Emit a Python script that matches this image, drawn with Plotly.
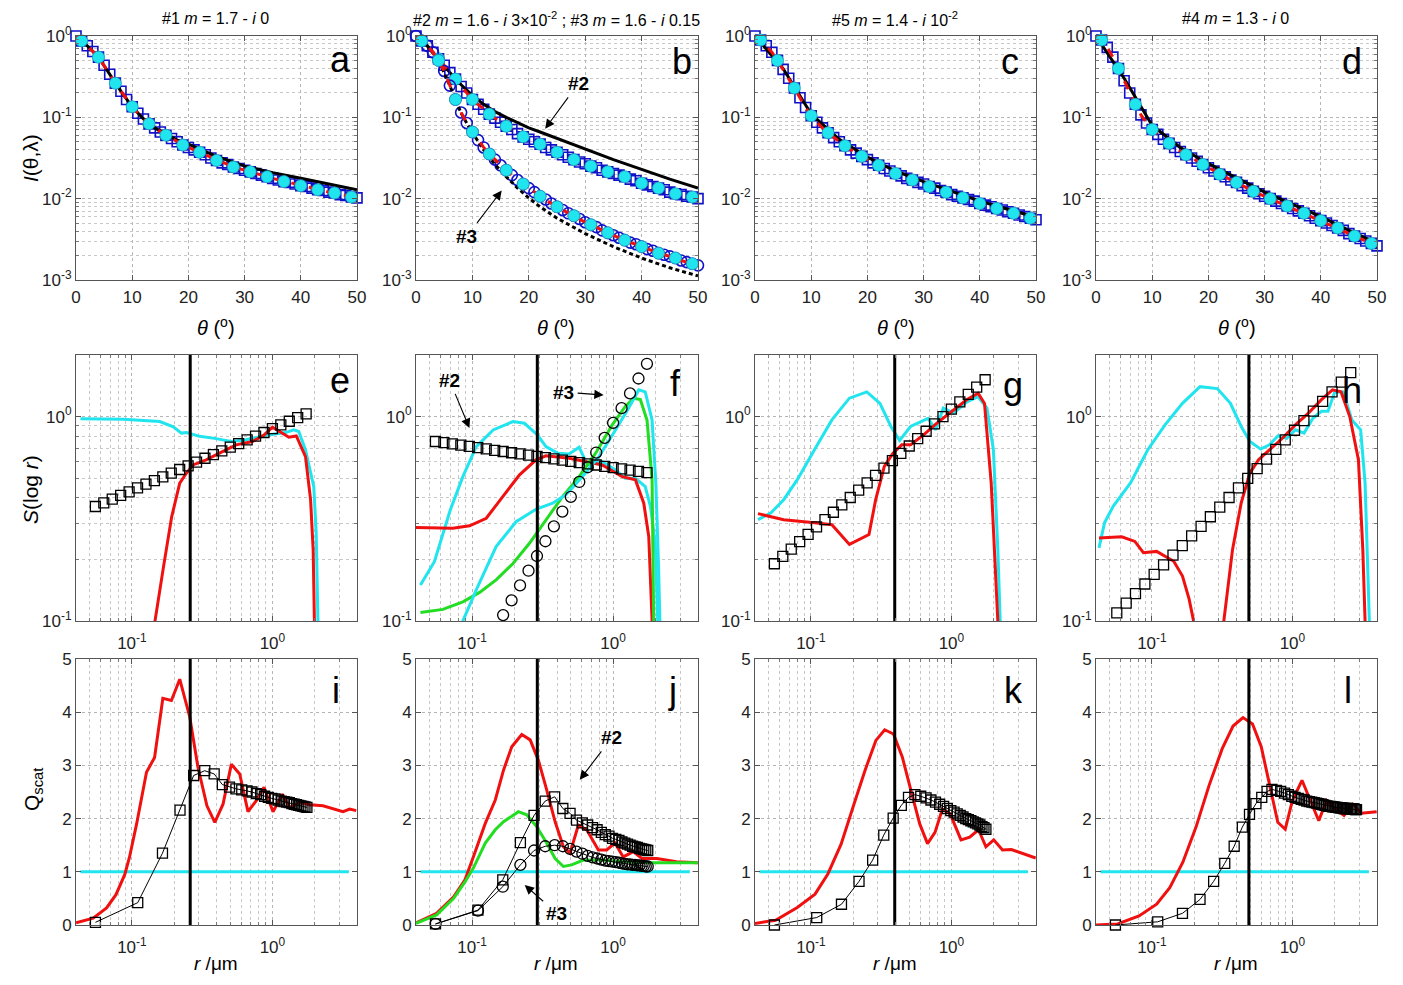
import math
import plotly.graph_objects as go

# page is 1403x985; the html body adds an 8 px margin, so the figure is drawn 8 px smaller
W, H = 1387, 969
OFF = 8
FONT = "Liberation Sans, Arial, sans-serif"

# ---------------- Row 1 : I(theta) (values stored as log10) ----------------
theta = list(range(51))
a_fit_log10 = [0.0, -0.06, -0.12, -0.19, -0.26, -0.36, -0.47, -0.58, -0.68, -0.78,
               -0.87, -0.95, -1.02, -1.08, -1.13, -1.18, -1.22, -1.26, -1.30, -1.34,
               -1.37, -1.40, -1.43, -1.46, -1.50, -1.53, -1.56, -1.58, -1.61, -1.63,
               -1.65, -1.67, -1.69, -1.71, -1.73, -1.75, -1.77, -1.79, -1.80, -1.82,
               -1.84, -1.85, -1.87, -1.89, -1.90, -1.92, -1.93, -1.95, -1.96, -1.98, -1.99]
a_black_theta = [0, 2, 4, 6, 8, 10, 12, 14, 16, 18, 20, 25, 30, 35, 40, 45, 50]
a_black_log10 = [0, -0.12, -0.26, -0.47, -0.68, -0.87, -1.02, -1.13, -1.21, -1.28, -1.33,
                 -1.48, -1.60, -1.68, -1.75, -1.82, -1.89]

b2_fit_log10 = [0.0, -0.06, -0.12, -0.20, -0.28, -0.36, -0.45, -0.53, -0.62, -0.70,
                -0.78, -0.84, -0.90, -0.96, -1.01, -1.06, -1.11, -1.15, -1.20, -1.24,
                -1.27, -1.30, -1.33, -1.37, -1.40, -1.43, -1.46, -1.49, -1.52, -1.55,
                -1.57, -1.60, -1.62, -1.65, -1.67, -1.69, -1.71, -1.73, -1.76, -1.78,
                -1.81, -1.83, -1.85, -1.87, -1.89, -1.92, -1.94, -1.95, -1.97, -1.98, -2.00]
b3_fit_log10 = [0.0, -0.06, -0.12, -0.20, -0.30, -0.43, -0.61, -0.78, -0.94, -1.07,
                -1.18, -1.28, -1.37, -1.45, -1.52, -1.59, -1.65, -1.71, -1.77, -1.82,
                -1.87, -1.92, -1.97, -2.01, -2.06, -2.10, -2.14, -2.18, -2.21, -2.25,
                -2.29, -2.32, -2.35, -2.39, -2.42, -2.45, -2.48, -2.51, -2.54, -2.56,
                -2.59, -2.62, -2.64, -2.67, -2.69, -2.71, -2.73, -2.76, -2.78, -2.80, -2.82]
b_black_theta = [0, 2, 4, 6, 8, 10, 12, 14, 16, 18, 20, 22, 25, 30, 35, 40, 45, 50]
b_black2_log10 = [0, -0.12, -0.28, -0.45, -0.60, -0.73, -0.84, -0.93, -1.00, -1.07, -1.13,
                  -1.18, -1.26, -1.39, -1.52, -1.64, -1.76, -1.87]
b_black3_log10 = [0, -0.12, -0.30, -0.61, -0.95, -1.19, -1.40, -1.58, -1.73, -1.87, -1.99,
                  -2.10, -2.24, -2.43, -2.59, -2.73, -2.85, -2.95]

c_fit_log10 = [0.0, -0.05, -0.12, -0.20, -0.30, -0.41, -0.52, -0.64, -0.76, -0.88,
               -0.98, -1.06, -1.13, -1.19, -1.25, -1.30, -1.35, -1.40, -1.44, -1.48,
               -1.52, -1.56, -1.59, -1.63, -1.66, -1.69, -1.72, -1.75, -1.77, -1.80,
               -1.82, -1.85, -1.87, -1.90, -1.92, -1.95, -1.97, -1.99, -2.01, -2.03,
               -2.06, -2.08, -2.10, -2.12, -2.14, -2.16, -2.18, -2.20, -2.22, -2.24, -2.26]
cd_black_theta = [0, 5, 10, 15, 20, 25, 30, 35, 40, 45, 50]
c_black_log10 = [0, -0.40, -0.96, -1.27, -1.49, -1.66, -1.79, -1.91, -2.03, -2.13, -2.23]

d_fit_log10 = [0.0, -0.05, -0.14, -0.26, -0.40, -0.55, -0.70, -0.84, -0.97, -1.07,
               -1.15, -1.21, -1.27, -1.32, -1.37, -1.42, -1.46, -1.50, -1.54, -1.58,
               -1.62, -1.66, -1.70, -1.73, -1.77, -1.80, -1.84, -1.87, -1.91, -1.94,
               -1.97, -2.00, -2.03, -2.06, -2.09, -2.12, -2.15, -2.18, -2.21, -2.24,
               -2.27, -2.30, -2.33, -2.36, -2.39, -2.43, -2.46, -2.49, -2.52, -2.55, -2.58]
d_black_log10 = [0, -0.52, -1.10, -1.37, -1.57, -1.75, -1.92, -2.07, -2.22, -2.39, -2.55]

# ---------------- Row 2 : S(log r) ----------------
sq_logr_efg = [-1.26, -1.20, -1.14, -1.08, -1.02, -0.96, -0.90, -0.84, -0.78, -0.72, -0.66,
               -0.60, -0.54, -0.48, -0.42, -0.36, -0.30, -0.24, -0.18, -0.12, -0.06, 0.00,
               0.06, 0.12, 0.18, 0.24]
e_sq_logS = [-0.440, -0.422, -0.404, -0.386, -0.368, -0.349, -0.331, -0.313, -0.295, -0.277,
             -0.259, -0.241, -0.223, -0.204, -0.186, -0.168, -0.150, -0.132, -0.114, -0.096,
             -0.078, -0.059, -0.041, -0.023, -0.005, 0.013]
f_sq_logS = [-0.122, -0.128, -0.134, -0.140, -0.146, -0.152, -0.158, -0.165, -0.171, -0.177,
             -0.183, -0.189, -0.195, -0.201, -0.207, -0.213, -0.219, -0.225, -0.231, -0.237,
             -0.244, -0.250, -0.256, -0.262, -0.268, -0.274]
f_circ_logr = [-0.78, -0.72, -0.66, -0.60, -0.54, -0.48, -0.42, -0.36, -0.30, -0.24, -0.18,
               -0.12, -0.06, 0.00, 0.06, 0.12, 0.18, 0.24]
f_circ_logS = [-0.971, -0.899, -0.826, -0.754, -0.682, -0.610, -0.537, -0.465, -0.393, -0.320,
               -0.248, -0.176, -0.104, -0.031, 0.041, 0.113, 0.186, 0.258]
g_sq_logS = [-0.720, -0.684, -0.648, -0.612, -0.576, -0.540, -0.504, -0.468, -0.432, -0.396,
             -0.360, -0.324, -0.288, -0.252, -0.216, -0.180, -0.144, -0.108, -0.072, -0.036,
             0.000, 0.036, 0.072, 0.108, 0.144, 0.180]
h_sq_logr = [-1.250, -1.183, -1.117, -1.050, -0.984, -0.917, -0.850, -0.784, -0.717, -0.650,
             -0.584, -0.517, -0.451, -0.384, -0.318, -0.251, -0.184, -0.118, -0.051, 0.015,
             0.082, 0.149, 0.215, 0.282, 0.348, 0.415]
h_sq_logS = [-0.960, -0.913, -0.866, -0.819, -0.772, -0.725, -0.678, -0.631, -0.584, -0.537,
             -0.490, -0.443, -0.396, -0.349, -0.302, -0.255, -0.208, -0.161, -0.114, -0.067,
             -0.020, 0.027, 0.074, 0.121, 0.168, 0.215]

e_cyan_r = [0.043, 0.087, 0.158, 0.197, 0.225, 0.245, 0.303, 0.398, 0.508, 0.648, 0.898, 1.24,
            1.42, 1.54, 1.72, 1.97, 2.05, 2.11, 2.15]
e_cyan_S = [0.975, 0.97, 0.945, 0.89, 0.83, 0.835, 0.80, 0.78, 0.755, 0.77, 0.81, 0.835, 0.86,
            0.845, 0.687, 0.454, 0.268, 0.105, 0.05]
e_red_r = [0.14, 0.146, 0.168, 0.192, 0.219, 0.244, 0.272, 0.338, 0.42, 0.551, 0.722, 0.873,
           1.0, 1.15, 1.31, 1.48, 1.72, 1.87, 1.95, 1.99, 2.02]
e_red_S = [0.08, 0.1, 0.185, 0.324, 0.472, 0.528, 0.58, 0.614, 0.662, 0.727, 0.755, 0.813,
           0.887, 0.835, 0.792, 0.804, 0.637, 0.391, 0.223, 0.1, 0.06]

f_cyan2_r = [0.043, 0.054, 0.07, 0.086, 0.107, 0.141, 0.195, 0.235, 0.292, 0.334, 0.404, 0.488,
             0.574, 0.657, 0.837, 1.04, 1.22, 1.44, 1.69, 1.84, 1.99, 2.1, 2.14]
f_cyan2_S = [0.15, 0.195, 0.349, 0.508, 0.713, 0.86, 0.945, 0.927, 0.81, 0.713, 0.662, 0.656,
             0.708, 0.58, 0.602, 0.548, 0.499, 0.499, 0.454, 0.363, 0.24, 0.1, 0.05]
f_cyan3_r = [0.08, 0.086, 0.107, 0.148, 0.205, 0.284, 0.372, 0.462, 0.605, 0.794, 1.04, 1.29,
             1.52, 1.69, 1.89, 2.01, 2.1, 2.16, 2.2]
f_cyan3_S = [0.08, 0.1, 0.142, 0.231, 0.306, 0.352, 0.377, 0.414, 0.508, 0.637, 0.86, 1.1,
             1.35, 1.32, 0.96, 0.472, 0.185, 0.1, 0.05]
f_green_r = [0.043, 0.062, 0.086, 0.113, 0.148, 0.195, 0.255, 0.334, 0.438, 0.574, 0.752,
             0.986, 1.22, 1.4, 1.56, 1.74, 1.89, 1.94, 1.97]
f_green_S = [0.11, 0.114, 0.124, 0.138, 0.159, 0.191, 0.24, 0.312, 0.406, 0.508, 0.662, 0.91,
             1.12, 1.23, 1.21, 0.96, 0.49, 0.1, 0.05]
f_red_r = [0.04, 0.073, 0.096, 0.126, 0.165, 0.217, 0.284, 0.334, 0.488, 0.837, 1.16, 1.44,
           1.65, 1.79, 1.89, 1.92]
f_red_S = [0.287, 0.284, 0.292, 0.318, 0.406, 0.519, 0.614, 0.643, 0.625, 0.58, 0.508, 0.49,
           0.377, 0.259, 0.1, 0.05]

g_cyan_r = [0.042, 0.052, 0.064, 0.08, 0.106, 0.141, 0.188, 0.25, 0.31, 0.371, 0.428, 0.512,
            0.681, 0.774, 0.875, 1.04, 1.29, 1.55, 1.79, 1.99, 2.14, 2.26, 2.3]
g_cyan_S = [0.313, 0.338, 0.392, 0.491, 0.688, 0.963, 1.23, 1.32, 1.16, 0.894, 0.764, 0.894,
            0.98, 0.861, 1.1, 1.04, 1.18, 1.25, 1.1, 0.688, 0.224, 0.1, 0.05]
g_red_r = [0.042, 0.064, 0.106, 0.141, 0.188, 0.233, 0.259, 0.289, 0.333, 0.384, 0.443, 0.512,
           0.634, 0.785, 1.04, 1.29, 1.55, 1.72, 1.92, 2.14, 2.2]
g_red_S = [0.335, 0.313, 0.302, 0.296, 0.237, 0.255, 0.265, 0.392, 0.57, 0.662, 0.727, 0.727,
           0.814, 0.927, 1.08, 1.21, 1.3, 1.16, 0.473, 0.1, 0.05]

h_cyan_r = [0.042, 0.046, 0.053, 0.0704, 0.0935, 0.124, 0.165, 0.22, 0.292, 0.362, 0.432,
            0.498, 0.595, 0.686, 0.791, 0.912, 1.05, 1.21, 1.4, 1.61, 1.79, 2.0, 2.3, 2.65,
            3.06, 3.29, 3.53, 3.6]
h_cyan_S = [0.228, 0.302, 0.364, 0.473, 0.688, 0.91, 1.16, 1.4, 1.37, 1.16, 0.894, 0.755,
            0.693, 0.727, 0.805, 0.783, 0.861, 0.83, 0.98, 1.06, 1.06, 1.32, 1.32, 0.963,
            0.861, 0.473, 0.1, 0.05]
h_red_r = [0.042, 0.061, 0.0756, 0.087, 0.108, 0.143, 0.165, 0.184, 0.198, 0.25, 0.325, 0.375,
           0.432, 0.498, 0.574, 0.686, 0.849, 1.05, 1.3, 1.61, 1.93, 2.22, 2.56, 2.95, 3.17,
           3.29, 3.35]
h_red_S = [0.255, 0.258, 0.245, 0.216, 0.219, 0.196, 0.166, 0.128, 0.1, 0.01, 0.1, 0.224,
           0.378, 0.529, 0.615, 0.688, 0.783, 0.91, 1.04, 1.21, 1.35, 1.32, 1.0, 0.615, 0.224,
           0.1, 0.05]

# ---------------- Row 3 : Q_scat ----------------
q_sq_r = [0.055, 0.11, 0.165, 0.22, 0.275, 0.33, 0.385, 0.44, 0.495, 0.55, 0.605, 0.66, 0.715,
          0.77, 0.825, 0.88, 0.935, 0.99, 1.045, 1.1, 1.155, 1.21, 1.265, 1.32, 1.375, 1.43,
          1.485, 1.54, 1.595, 1.65, 1.705, 1.76]
l_sq_r = q_sq_r + [1.815, 1.87, 1.925, 1.98, 2.035, 2.09, 2.145, 2.2, 2.255, 2.31, 2.365, 2.42,
                   2.475, 2.53, 2.585, 2.64, 2.695, 2.75, 2.805, 2.86]
i_sq_Q = [0.05, 0.42, 1.35, 2.16, 2.81, 2.90, 2.84, 2.64, 2.59, 2.56, 2.54, 2.52, 2.50, 2.47,
          2.45, 2.42, 2.40, 2.38, 2.37, 2.35, 2.33, 2.32, 2.31, 2.30, 2.28, 2.27, 2.26, 2.25,
          2.24, 2.23, 2.22, 2.21]
j_sq_Q = [0.02, 0.28, 0.85, 1.55, 2.06, 2.33, 2.41, 2.19, 2.10, 1.97, 1.92, 1.88, 1.83, 1.79,
          1.74, 1.70, 1.67, 1.63, 1.61, 1.59, 1.56, 1.54, 1.52, 1.50, 1.48, 1.47, 1.46, 1.44,
          1.43, 1.42, 1.41, 1.40]
j_circ_Q = [0.02, 0.27, 0.72, 1.13, 1.40, 1.48, 1.50, 1.48, 1.43, 1.38, 1.34, 1.30, 1.27, 1.25,
            1.23, 1.21, 1.20, 1.19, 1.18, 1.17, 1.16, 1.15, 1.14, 1.14, 1.13, 1.13, 1.12, 1.12,
            1.11, 1.11, 1.10, 1.10]
k_sq_Q = [0.00, 0.14, 0.39, 0.82, 1.22, 1.69, 2.01, 2.25, 2.40, 2.45, 2.42, 2.39, 2.35, 2.31,
          2.27, 2.23, 2.19, 2.15, 2.12, 2.09, 2.06, 2.03, 2.00, 1.98, 1.96, 1.94, 1.92, 1.90,
          1.88, 1.85, 1.83, 1.80]
l_sq_Q = [0.00, 0.06, 0.22, 0.48, 0.82, 1.16, 1.48, 1.84, 2.08, 2.28, 2.40, 2.51, 2.55, 2.53,
          2.51, 2.48, 2.45, 2.42, 2.40, 2.38, 2.36, 2.35, 2.33, 2.32, 2.31, 2.30, 2.29, 2.28,
          2.27, 2.26, 2.25, 2.24, 2.23, 2.23, 2.22, 2.22, 2.21, 2.21, 2.20, 2.20, 2.20, 2.19,
          2.19, 2.19, 2.19, 2.18, 2.18, 2.18, 2.18, 2.18, 2.17, 2.17]

i_red_r = [0.04, 0.053, 0.066, 0.077, 0.089, 0.096, 0.108, 0.127, 0.145, 0.166, 0.191, 0.219,
           0.258, 0.295, 0.342, 0.389, 0.445, 0.51, 0.585, 0.67, 0.77, 0.871, 1.01, 1.18, 1.33,
           1.56, 1.84, 2.29, 3.18, 3.55, 3.95]
i_red_Q = [0.04, 0.13, 0.32, 0.57, 0.95, 1.27, 1.9, 2.87, 3.15, 4.26, 4.22, 4.62, 3.91, 2.97,
           2.24, 1.93, 2.27, 3.02, 2.84, 2.13, 2.34, 2.59, 2.13, 2.46, 2.21, 2.30, 2.26, 2.24,
           2.13, 2.18, 2.15]
j_red_r = [0.04, 0.056, 0.074, 0.089, 0.102, 0.124, 0.146, 0.167, 0.191, 0.225, 0.258, 0.295,
           0.338, 0.388, 0.444, 0.495, 0.567, 0.65, 0.786, 0.9, 1.03, 1.18, 1.39, 1.6, 2.04,
           2.82, 3.98]
j_red_Q = [0.04, 0.22, 0.53, 0.85, 1.28, 1.91, 2.35, 2.91, 3.35, 3.58, 3.48, 3.10, 2.54, 1.94,
           1.47, 1.35, 1.88, 1.79, 1.41, 1.41, 1.54, 1.28, 1.38, 1.25, 1.25, 1.19, 1.17]
j_green_r = [0.04, 0.056, 0.074, 0.089, 0.102, 0.124, 0.146, 0.167, 0.213, 0.244, 0.287, 0.338,
             0.388, 0.444, 0.508, 0.615, 0.853, 1.18, 1.93, 3.98]
j_green_Q = [0.03, 0.19, 0.5, 0.81, 1.07, 1.54, 1.79, 1.94, 2.13, 2.07, 1.85, 1.54, 1.25, 1.10,
             1.13, 1.22, 1.22, 1.19, 1.17, 1.17]
k_red_r = [0.04, 0.056, 0.08, 0.107, 0.132, 0.164, 0.203, 0.243, 0.29, 0.335, 0.387, 0.447,
           0.515, 0.595, 0.676, 0.764, 0.862, 0.98, 1.17, 1.35, 1.56, 1.76, 2.0, 2.31, 2.67,
           3.3, 3.98]
k_red_Q = [0.03, 0.09, 0.33, 0.58, 0.96, 1.52, 2.28, 2.91, 3.47, 3.67, 3.59, 3.16, 2.53, 1.90,
           1.53, 1.74, 2.18, 2.09, 1.6, 1.65, 1.79, 1.47, 1.6, 1.41, 1.42, 1.33, 1.26]
l_red_r = [0.04, 0.057, 0.081, 0.108, 0.134, 0.166, 0.206, 0.255, 0.316, 0.378, 0.445, 0.52,
           0.6, 0.683, 0.787, 0.889, 1.0, 1.17, 1.34, 1.54, 1.75, 2.02, 2.33, 2.69, 3.1, 3.98]
l_red_Q = [0.0, 0.02, 0.17, 0.39, 0.70, 1.18, 1.84, 2.62, 3.31, 3.74, 3.90, 3.78, 3.35, 2.65,
           1.93, 1.8, 2.34, 2.72, 2.34, 1.96, 2.34, 2.18, 2.06, 2.27, 2.1, 2.13]
q_cyan_r = [0.043, 3.5]
q_cyan_Q = [1.0, 1.0]

r_vertical = [0.26, 0.29, 0.395, 0.49]
panel_letters = ["a", "b", "c", "d", "e", "f", "g", "h", "i", "j", "k", "l"]
col_titles = ["#1 <i>m</i> = 1.7 - <i>i</i> 0",
              "#2 <i>m</i> = 1.6 - <i>i</i> 3\u00d710<sup>-2</sup> ; #3 <i>m</i> = 1.6 - <i>i</i> 0.15",
              "#5 <i>m</i> = 1.4 - <i>i</i> 10<sup>-2</sup>",
              "#4 <i>m</i> = 1.3 - <i>i</i> 0"]

# ---------------- styles / layout ----------------
RED = "#f01010"
CYAN = "#20e4ee"
GREEN = "#22dd22"
BLUE = "#1010c8"

col_px = [(76, 357), (416, 698), (755, 1036), (1096, 1377)]
row_px = [(36, 280), (355, 621), (659, 925)]


def pw(x):
    return (x - OFF) / W


def ph(y):
    return 1 - (y - OFF) / H


def axn(n):
    return ("x" if n == 1 else f"x{n}"), ("y" if n == 1 else f"y{n}")


def lg(v):
    return [10 ** u for u in v]


fig = go.Figure()


def add(n, **kw):
    xr, yr = axn(n)
    fig.add_trace(go.Scatter(xaxis=xr, yaxis=yr, showlegend=False, hoverinfo="skip", **kw))


common = dict(showline=True, linecolor="#555", linewidth=1, mirror="ticks", ticks="inside",
              ticklen=5, tickcolor="#555", showgrid=True, gridcolor="#b5b5b5", griddash="dot",
              gridwidth=1, zeroline=False, automargin=False,
              tickfont=dict(family=FONT, size=17, color="#222"))
minor_log_row = [k * 10 ** e for e in (-3, -2, -1) for k in range(2, 10)]
minor_r = [v for v in (k * 10 ** e for e in (-2, -1, 0) for k in range(2, 10)) if 0.039 < v < 4.01]
minor_S = [k * 0.1 for k in range(2, 10)] + [2.0]
minor_style = dict(ticks="inside", ticklen=3, tickcolor="#777", showgrid=True,
                   gridcolor="#c8c8c8", griddash="dot", gridwidth=1)
pow_txt = {-3: "10<sup>-3</sup>", -2: "10<sup>-2</sup>", -1: "10<sup>-1</sup>", 0: "10<sup>0</sup>"}

layout_axes = {}
for row in range(3):
    for col in range(4):
        n = row * 4 + col + 1
        xk = "xaxis" if n == 1 else f"xaxis{n}"
        yk = "yaxis" if n == 1 else f"yaxis{n}"
        xr, yr = axn(n)
        xd = [pw(col_px[col][0]), pw(col_px[col][1])]
        yd = [ph(row_px[row][1]), ph(row_px[row][0])]
        if row == 0:
            xa = dict(common, domain=xd, anchor=yr, range=[0, 50], tickvals=[0, 10, 20, 30, 40, 50],
                      ticklabelstandoff=2)
            ya = dict(common, domain=yd, anchor=xr, type="log", range=[-3, 0],
                      tickvals=[1e-3, 1e-2, 1e-1, 1], ticktext=[pow_txt[k] for k in (-3, -2, -1, 0)],
                      minor=dict(minor_style, tickvals=minor_log_row))
        else:
            xa = dict(common, domain=xd, anchor=yr, type="log",
                      range=[math.log10(0.04), math.log10(4.0)],
                      tickvals=[0.1, 1.0], ticktext=[pow_txt[-1], pow_txt[0]],
                      ticklabelstandoff=7,
                      minor=dict(minor_style, tickvals=minor_r))
            if row == 1:
                ya = dict(common, domain=yd, anchor=xr, type="log", range=[-1, math.log10(2.0)],
                          tickvals=[0.1, 1.0], ticktext=[pow_txt[-1], pow_txt[0]],
                          minor=dict(minor_style, tickvals=minor_S))
            else:
                ya = dict(common, domain=yd, anchor=xr, range=[0, 5], tickvals=[0, 1, 2, 3, 4, 5])
        layout_axes[xk] = xa
        layout_axes[yk] = ya

# ---------------- Row 1 traces ----------------
sq_blue = dict(symbol="square-open", size=10, color=BLUE, line=dict(width=1.6, color=BLUE))
circ_blue = dict(symbol="circle-open", size=11, color=BLUE, line=dict(width=1.6, color=BLUE))
cyan_dot = dict(symbol="circle", size=12, color=CYAN, line=dict(width=0.8, color="#1aa6b8"))


def theta_panel(n, fit, black_t, black_v, open_marker, black_dash="solid"):
    add(n, x=theta, y=lg(fit), mode="markers", marker=open_marker, cliponaxis=False)
    add(n, x=black_t, y=lg(black_v), mode="lines", line=dict(color="black", width=3, dash=black_dash))
    add(n, x=theta, y=lg(fit), mode="lines", line=dict(color=RED, width=3, dash="dash"))
    add(n, x=theta[1::3], y=lg(fit[1::3]), mode="markers", marker=cyan_dot, cliponaxis=False)


theta_panel(1, a_fit_log10, a_black_theta, a_black_log10, sq_blue)
theta_panel(2, b2_fit_log10, b_black_theta, b_black2_log10, sq_blue)
theta_panel(2, b3_fit_log10, b_black_theta, b_black3_log10, circ_blue, black_dash="4px,3px")
theta_panel(3, c_fit_log10, cd_black_theta, c_black_log10, sq_blue)
theta_panel(4, d_fit_log10, cd_black_theta, d_black_log10, sq_blue)

# ---------------- Row 2 traces ----------------
sq_black = dict(symbol="square-open", size=10, color="black", line=dict(width=1.3, color="black"))
circ_black = dict(symbol="circle-open", size=11, color="black", line=dict(width=1.3, color="black"))


def vline(n, r0, y0, y1):
    add(n, x=[r0, r0], y=[y0, y1], mode="lines", line=dict(color="black", width=3))


add(5, x=e_cyan_r, y=e_cyan_S, mode="lines", line=dict(color=CYAN, width=3))
add(5, x=e_red_r, y=e_red_S, mode="lines", line=dict(color=RED, width=3))
add(5, x=lg(sq_logr_efg), y=lg(e_sq_logS), mode="markers", marker=sq_black)
vline(5, r_vertical[0], 0.1, 2.0)

add(6, x=f_cyan2_r, y=f_cyan2_S, mode="lines", line=dict(color=CYAN, width=3))
add(6, x=f_red_r, y=f_red_S, mode="lines", line=dict(color=RED, width=3))
add(6, x=f_green_r, y=f_green_S, mode="lines", line=dict(color=GREEN, width=3))
add(6, x=f_cyan3_r, y=f_cyan3_S, mode="lines", line=dict(color=CYAN, width=3))
add(6, x=lg(sq_logr_efg), y=lg(f_sq_logS), mode="markers", marker=sq_black)
add(6, x=lg(f_circ_logr), y=lg(f_circ_logS), mode="markers", marker=circ_black, cliponaxis=False)
vline(6, r_vertical[1], 0.1, 2.0)

add(7, x=g_cyan_r, y=g_cyan_S, mode="lines", line=dict(color=CYAN, width=3))
add(7, x=g_red_r, y=g_red_S, mode="lines", line=dict(color=RED, width=3))
add(7, x=lg(sq_logr_efg), y=lg(g_sq_logS), mode="markers", marker=sq_black)
vline(7, r_vertical[2], 0.1, 2.0)

add(8, x=h_cyan_r, y=h_cyan_S, mode="lines", line=dict(color=CYAN, width=3))
add(8, x=h_red_r, y=h_red_S, mode="lines", line=dict(color=RED, width=3))
add(8, x=lg(h_sq_logr), y=lg(h_sq_logS), mode="markers", marker=sq_black)
vline(8, r_vertical[3], 0.1, 2.0)


# ---------------- Row 3 traces ----------------
def q_panel(n, red_r, red_Q, sets, r0, green=None):
    add(n, x=q_cyan_r, y=q_cyan_Q, mode="lines", line=dict(color=CYAN, width=3))
    add(n, x=red_r, y=red_Q, mode="lines", line=dict(color=RED, width=3))
    if green is not None:
        add(n, x=green[0], y=green[1], mode="lines", line=dict(color=GREEN, width=3))
    for xr_, yq, mk in sets:
        add(n, x=xr_, y=yq, mode="lines+markers", line=dict(color="black", width=1), marker=mk,
            cliponaxis=False)
    vline(n, r0, 0, 5)


q_panel(9, i_red_r, i_red_Q, [(q_sq_r, i_sq_Q, sq_black)], r_vertical[0])
q_panel(10, j_red_r, j_red_Q, [(q_sq_r, j_sq_Q, sq_black), (q_sq_r, j_circ_Q, circ_black)],
        r_vertical[1], green=(j_green_r, j_green_Q))
q_panel(11, k_red_r, k_red_Q, [(q_sq_r, k_sq_Q, sq_black)], r_vertical[2])
q_panel(12, l_red_r, l_red_Q, [(l_sq_r, l_sq_Q, sq_black)], r_vertical[3])

# ---------------- annotations ----------------
anns = []
letter_pos = [(340, 60), (682, 62), (1010, 62), (1352, 62),
              (340, 380), (675, 383), (1013, 385), (1352, 390),
              (336, 690), (672, 690), (1013, 690), (1348, 690)]
for (px, py), L in zip(letter_pos, panel_letters):
    anns.append(dict(xref="paper", yref="paper", x=pw(px), y=ph(py), text=L, showarrow=False,
                     xanchor="center", yanchor="middle",
                     font=dict(family=FONT, size=36, color="black")))
for cx, t in zip([215, 556, 895, 1235], col_titles):
    anns.append(dict(xref="paper", yref="paper", x=pw(cx), y=ph(19), text=t, showarrow=False,
                     xanchor="center", yanchor="middle",
                     font=dict(family=FONT, size=16, color="black")))
for cx in [216, 556, 896, 1237]:
    anns.append(dict(xref="paper", yref="paper", x=pw(cx), y=ph(326),
                     text="<i>\u03b8</i> (<sup>o</sup>)", showarrow=False,
                     xanchor="center", yanchor="middle",
                     font=dict(family=FONT, size=20, color="black")))
for cx in [216, 556, 895, 1236]:
    anns.append(dict(xref="paper", yref="paper", x=pw(cx), y=ph(963),
                     text="<i>r</i> /\u03bcm", showarrow=False,
                     xanchor="center", yanchor="middle",
                     font=dict(family=FONT, size=19, color="black")))
for (px, py), t in zip([(30, 158), (30, 490), (33, 790)],
                       ["<i>I</i>(\u03b8,\u03bb)", "<i>S</i>(log <i>r</i>)", "Q<sub>scat</sub>"]):
    anns.append(dict(xref="paper", yref="paper", x=pw(px), y=ph(py), text=t, showarrow=False,
                     textangle=-90, xanchor="center", yanchor="middle",
                     font=dict(family=FONT, size=21, color="black")))


def arrow(n, x, y, ax, ay, text):
    xr, yr = axn(n)
    anns.append(dict(xref=xr, yref=yr, x=x, y=y, ax=ax, ay=ay, text=f"<b>{text}</b>",
                     showarrow=True, arrowhead=2, arrowsize=1.7, arrowwidth=1.1,
                     arrowcolor="black", standoff=0, startstandoff=2,
                     font=dict(family=FONT, size=19, color="black")))


arrow(2, 22.9, -1.14, 33, -45, "#2")
arrow(2, 15.2, -1.90, -35, 46, "#3")
arrow(6, math.log10(0.0957), -0.056, -20, -48, "#2")
arrow(6, math.log10(0.857), 0.105, -40, -3, "#3")
arrow(10, math.log10(0.58), 2.73, 32, -42, "#2")
arrow(10, math.log10(0.236), 0.75, 32, 28, "#3")

fig.update_layout(width=W, height=H, autosize=False, margin=dict(l=0, r=0, t=0, b=0),
                  paper_bgcolor="white", plot_bgcolor="white", annotations=anns,
                  font=dict(family=FONT), **layout_axes)

fig.write_html("out.html")
